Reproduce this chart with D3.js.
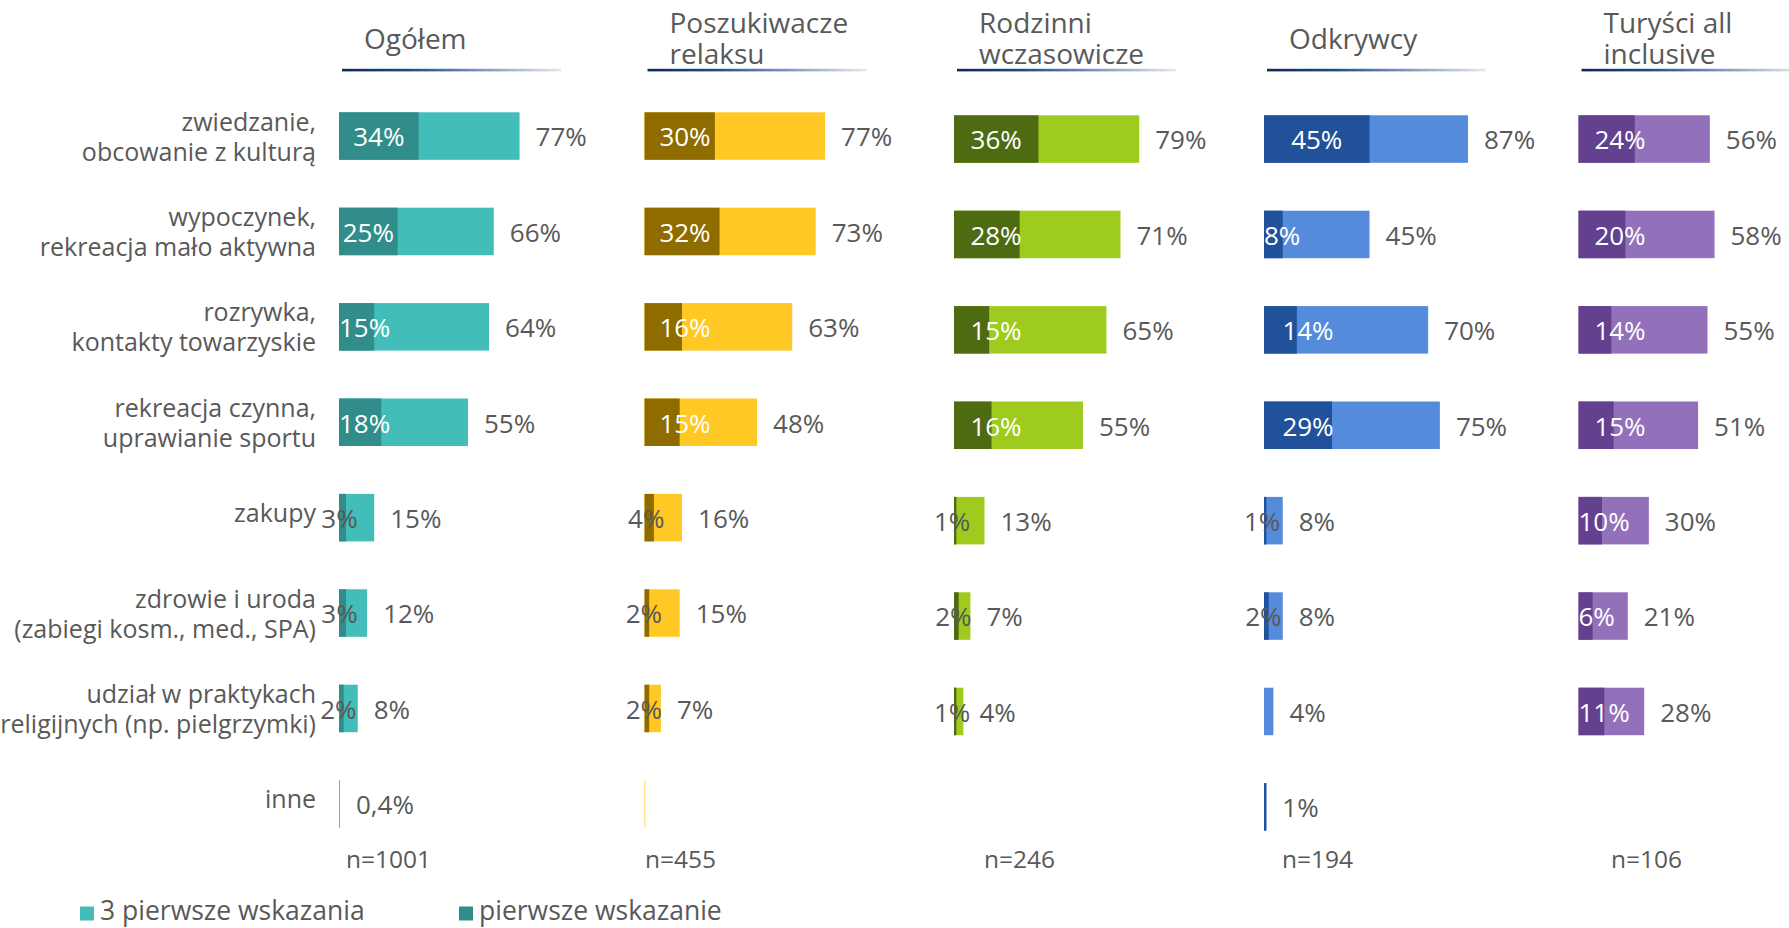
<!DOCTYPE html>
<html>
<head>
<meta charset="utf-8">
<script src="https://cdn.jsdelivr.net/npm/d3@7"></script>
<style>
html,body{margin:0;padding:0;background:#ffffff;}
svg{display:block;font-family:"Open Sans",sans-serif;}
</style>
</head>
<body>
<svg id="chart" width="1789" height="928"></svg>
<script>
// ---------------- DATA ----------------
const categories = [
  "zwiedzanie,\nobcowanie z kulturą",
  "wypoczynek,\nrekreacja mało aktywna",
  "rozrywka,\nkontakty towarzyskie",
  "rekreacja czynna,\nuprawianie sportu",
  "zakupy",
  "zdrowie i uroda\n(zabiegi kosm., med., SPA)",
  "udział w praktykach\nreligijnych (np. pielgrzymki)",
  "inne"
];
const panelTitles = [["Ogółem"], ["Poszukiwacze", "relaksu"], ["Rodzinni", "wczasowicze"], ["Odkrywcy"], ["Turyści all", "inclusive"]];
const sampleSizes = ["n=1001", "n=455", "n=246", "n=194", "n=106"];
const seriesNames = ["3 pierwsze wskazania", "pierwsze wskazanie"];

// "pierwsze wskazanie" (first choice) — null = no mark
const ogolemFirst = [34, 25, 15, 18, 3, 3, 2, null];
const poszukiwaczeFirst = [30, 32, 16, 15, 4, 2, 2, null];
const rodzinniFirst = [36, 28, 15, 16, 1, 2, 1, null];
const odkrywcyFirst = [45, 8, 14, 29, 1, 2, null, 1];
const turysciFirst = [24, 20, 14, 15, 10, 6, 11, null];

// "3 pierwsze wskazania" (top three)
const ogolemTop3 = [77, 66, 64, 55, 15, 12, 8, 0.4];
const poszukiwaczeTop3 = [77, 73, 63, 48, 16, 15, 7, 0.3];
const rodzinniTop3 = [79, 71, 65, 55, 13, 7, 4, null];
const odkrywcyTop3 = [87, 45, 70, 75, 8, 8, 4, 1];
const turysciTop3 = [56, 58, 55, 51, 30, 21, 28, null];

const firstSeries = [ogolemFirst, poszukiwaczeFirst, rodzinniFirst, odkrywcyFirst, turysciFirst];
const top3Series = [ogolemTop3, poszukiwaczeTop3, rodzinniTop3, odkrywcyTop3, turysciTop3];

// ---------------- STYLE / LAYOUT ----------------
const darkColors = ["#318D8A", "#8E6C00", "#4F6B12", "#21519A", "#64418F"];
const lightColors = ["#42BDB9", "#FFC825", "#9ECB1E", "#558BDB", "#9370BA"];
const panelX = [339, 644.5, 954, 1264, 1578.5];
const panelDy = [0, 0, 3, 3, 3];
const nLabelX = [346, 645, 984, 1282, 1611];
const labelMinCenter = [0, 40.5, 42, 44, 41.5];
const textColor = "#595959";

const svg = d3.select("#chart");

const defs = svg.append("defs");
const grad = defs.append("linearGradient").attr("id", "uline").attr("x1", "0%").attr("x2", "100%");
[["0%", "#0b2a59"], ["30%", "#1d4a82"], ["60%", "#6f90ba"], ["100%", "#e6e8ef"]].forEach(s =>
  grad.append("stop").attr("offset", s[0]).attr("stop-color", s[1]));

const x = d3.scaleLinear().domain([0, 100]).range([0, 234.5]);
const y = d3.scaleBand()
  .domain(d3.range(categories.length))
  .range([88.45, 88.45 + 95.4 * (categories.length - 0.502 + 0.5)])
  .paddingInner(0.502)
  .paddingOuter(0.25);
const bw = y.bandwidth();

const loc = d3.formatLocale({decimal: ",", thousands: " ", grouping: [3], currency: ["", "zł"]});
const fmt = v => (v < 1 ? loc.format(".1f")(v) : loc.format(".0f")(v)) + "%";

// ---------------- CATEGORY LABELS ----------------
const catG = svg.append("g").attr("font-size", 25).attr("fill", textColor).attr("text-anchor", "end");
categories.forEach((c, i) => {
  const lines = c.split("\n");
  const cy = y(i) + bw / 2;
  const t = catG.append("text").attr("x", 316);
  if (lines.length === 1) {
    t.append("tspan").attr("x", 316).attr("y", cy + 4).text(lines[0]);
  } else {
    t.append("tspan").attr("x", 316).attr("y", cy - 5.5).text(lines[0]);
    t.append("tspan").attr("x", 316).attr("y", cy + 24.5).text(lines[1]);
  }
});

// ---------------- PANELS ----------------
panelTitles.forEach((title, p) => {
  const x0 = panelX[p];
  // title (one text element, lines as tspans)
  const tt = svg.append("text").attr("font-size", 28).attr("fill", textColor);
  if (title.length === 1) {
    tt.append("tspan").attr("x", x0 + 25).attr("y", 49.3).text(title[0]);
  } else {
    tt.append("tspan").attr("x", x0 + 25).attr("y", 33.3).text(title[0]);
    tt.append("tspan").attr("x", x0 + 25).attr("y", 64).text(title[1]);
  }
  svg.append("rect").attr("x", x0 + 3).attr("y", 68.8).attr("width", 219).attr("height", 2.6).attr("fill", "url(#uline)");

  const g = svg.append("g").attr("transform", `translate(${x0},${panelDy[p]})`);
  const top3 = top3Series[p], first = firstSeries[p];

  // top-3 bars
  g.selectAll("rect.top3").data(top3.map((v, i) => ({v, i})).filter(d => d.v != null))
    .join("rect").attr("class", "top3")
    .attr("x", 0).attr("y", d => y(d.i)).attr("height", bw)
    .attr("width", d => x(d.v)).attr("fill", lightColors[p]);

  // first-choice bars
  g.selectAll("rect.first").data(first.map((v, i) => ({v, i})).filter(d => d.v != null))
    .join("rect").attr("class", "first")
    .attr("x", 0).attr("y", d => y(d.i)).attr("height", bw)
    .attr("width", d => x(d.v)).attr("fill", darkColors[p]);

  // top-3 labels
  g.selectAll("text.tot").data(top3.map((v, i) => ({v, i})).filter(d => d.v != null && d.v >= 0.4))
    .join("text").attr("class", "tot")
    .attr("x", d => x(d.v) + 16).attr("y", d => y(d.i) + bw / 2).attr("dy", "0.4em")
    .attr("font-size", 26).attr("fill", textColor).text(d => fmt(d.v));

  // first-choice labels
  first.forEach((v, i) => {
    if (v == null || v < 1 || v >= top3[i]) return;
    const white = v >= 5;
    const t = g.append("text").attr("text-anchor", "middle")
      .attr("y", y(i) + bw / 2).attr("dy", "0.4em")
      .attr("font-size", 26).attr("fill", white ? "#ffffff" : textColor).text(fmt(v));
    const w = t.node().getComputedTextLength();
    const seg = x(v) / 2;
    let c = seg - (white ? 0 : 3);
    if (white) c = Math.max(seg, w / 2, v >= 12 ? labelMinCenter[p] : 0);
    t.attr("x", c);
  });

  // sample size
  svg.append("text").attr("x", nLabelX[p]).attr("y", 868).attr("font-size", 24.5).attr("fill", textColor).text(sampleSizes[p]);
});

// ---------------- LEGEND ----------------
const legendX = [80, 459];
const legendColors = [lightColors[0], darkColors[0]];
seriesNames.forEach((s, i) => {
  svg.append("rect").attr("x", legendX[i]).attr("y", 906.5).attr("width", 14).attr("height", 14).attr("fill", legendColors[i]);
  svg.append("text").attr("x", legendX[i] + 20).attr("y", 920).attr("font-size", 26.5).attr("fill", textColor).text(s);
});
</script>
</body>
</html>
